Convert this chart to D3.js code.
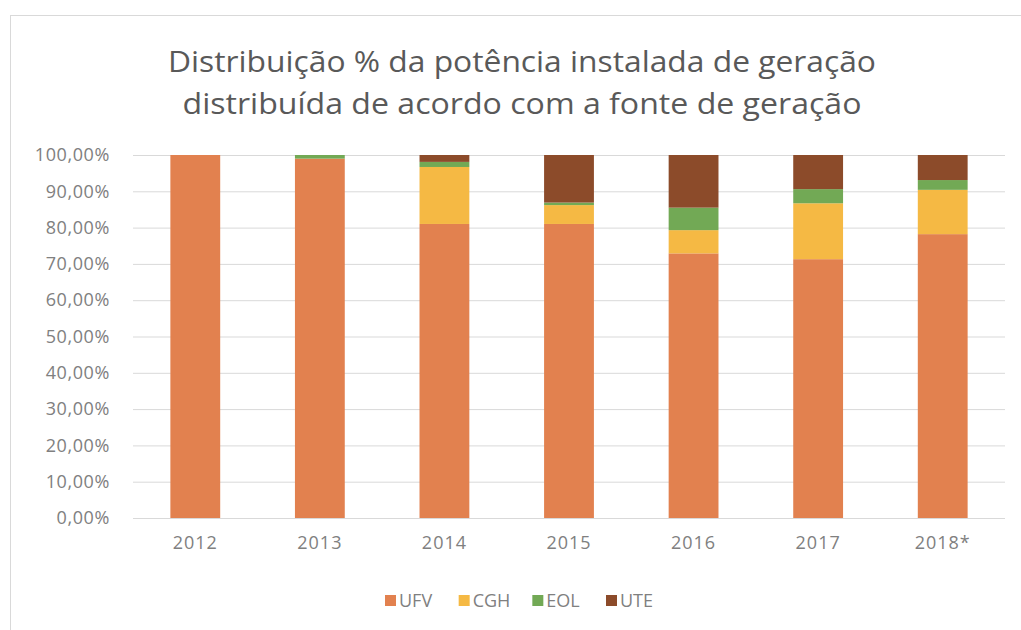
<!DOCTYPE html>
<html>
<head>
<meta charset="utf-8">
<script src="https://cdn.jsdelivr.net/npm/d3@7"></script>
<style>
  body { margin: 0; background: #fff; }
  svg { display: block; font-family: "Open Sans", sans-serif; }
</style>
</head>
<body>
<div id="chart"></div>
<script>
const years = ["2012", "2013", "2014", "2015", "2016", "2017", "2018*"];
const sources = ["UFV", "CGH", "EOL", "UTE"];
const ufv = [100, 99.0, 81.0, 81.0, 72.9, 71.3, 78.2];
const cgh = [0, 0, 15.7, 5.2, 6.4, 15.4, 12.2];
const eol = [0, 1.0, 1.4, 0.7, 6.2, 3.9, 2.7];
const ute = [0, 0, 1.9, 13.1, 14.5, 9.4, 6.9];
const yTicks = [0, 10, 20, 30, 40, 50, 60, 70, 80, 90, 100];
const titleLines = [
  "Distribuição % da potência instalada de geração",
  "distribuída de acordo com a fonte de geração"
];
const titleWidths = [708, 679];

const colors = { UFV: "#e2814f", CGH: "#f5b944", EOL: "#72a955", UTE: "#8c4b2a" };

const width = 1021, height = 630;
const margin = { left: 133, right: 16, top: 155, bottom: 112 };
const innerWidth = width - margin.left - margin.right;
const innerHeight = height - margin.top - margin.bottom;

const rows = years.map((y, i) => ({ year: y, UFV: ufv[i], CGH: cgh[i], EOL: eol[i], UTE: ute[i] }));
const stacked = d3.stack().keys(sources)(rows);

const svg = d3.select("#chart").append("svg")
  .attr("width", width).attr("height", height);

// Chart frame
svg.append("rect")
  .attr("x", 10.5).attr("y", 15.5)
  .attr("width", 1040).attr("height", 640)
  .attr("fill", "#fff").attr("stroke", "#d9d9d9");

// Title
svg.append("g").selectAll("text").data(titleLines).join("text")
  .attr("x", 522)
  .attr("y", (d, i) => 72 + i * 42)
  .attr("text-anchor", "middle")
  .attr("font-size", 30)
  .attr("textLength", (d, i) => titleWidths[i])
  .attr("lengthAdjust", "spacingAndGlyphs")
  .attr("fill", "#595959")
  .text(d => d);

const g = svg.append("g").attr("transform", `translate(${margin.left},${margin.top})`);

const x = d3.scaleBand().domain(years).range([0, innerWidth]).paddingInner(0.6).paddingOuter(0.3);
const y = d3.scaleLinear().domain([0, 100]).range([innerHeight, 0]);

// Grid
g.append("g").selectAll("line").data(yTicks).join("line")
  .attr("x1", 0).attr("x2", innerWidth)
  .attr("y1", d => y(d) + 0.5).attr("y2", d => y(d) + 0.5)
  .attr("stroke", "#d9d9d9");

// Y axis labels
const yAxis = g.append("g")
  .call(d3.axisLeft(y).tickValues(yTicks).tickSize(0).tickPadding(23)
    .tickFormat(d => d3.format(".2f")(d).replace(".", ",") + "%"));
yAxis.select(".domain").remove();
yAxis.selectAll("text").attr("font-size", 18).attr("fill", "#808080")
  .attr("letter-spacing", 0.6)
  .attr("font-family", "'Open Sans', sans-serif");

// Bars
g.append("g").selectAll("g").data(stacked).join("g")
  .attr("fill", d => colors[d.key])
  .selectAll("rect").data(d => d).join("rect")
  .attr("x", d => x(d.data.year))
  .attr("width", x.bandwidth())
  .attr("y", d => y(d[1]))
  .attr("height", d => y(d[0]) - y(d[1]));

// X axis
const xAxis = g.append("g").attr("transform", `translate(0,${innerHeight})`)
  .call(d3.axisBottom(x).tickSize(0).tickPadding(18));
xAxis.select(".domain").remove();
xAxis.selectAll("text").attr("font-size", 18).attr("fill", "#808080")
  .attr("letter-spacing", 1)
  .attr("font-family", "'Open Sans', sans-serif");

// Legend
const legendX = d3.scalePoint().domain(sources).range([385, 606]);
const leg = svg.append("g").selectAll("g").data(sources).join("g")
  .attr("transform", d => `translate(${legendX(d)},600)`);
leg.append("rect").attr("x", 0).attr("y", -5).attr("width", 11).attr("height", 11)
  .attr("fill", d => colors[d]);
leg.append("text").attr("x", 14).attr("y", 7)
  .attr("font-size", 18).attr("fill", "#808080").text(d => d);
</script>
</body>
</html>
